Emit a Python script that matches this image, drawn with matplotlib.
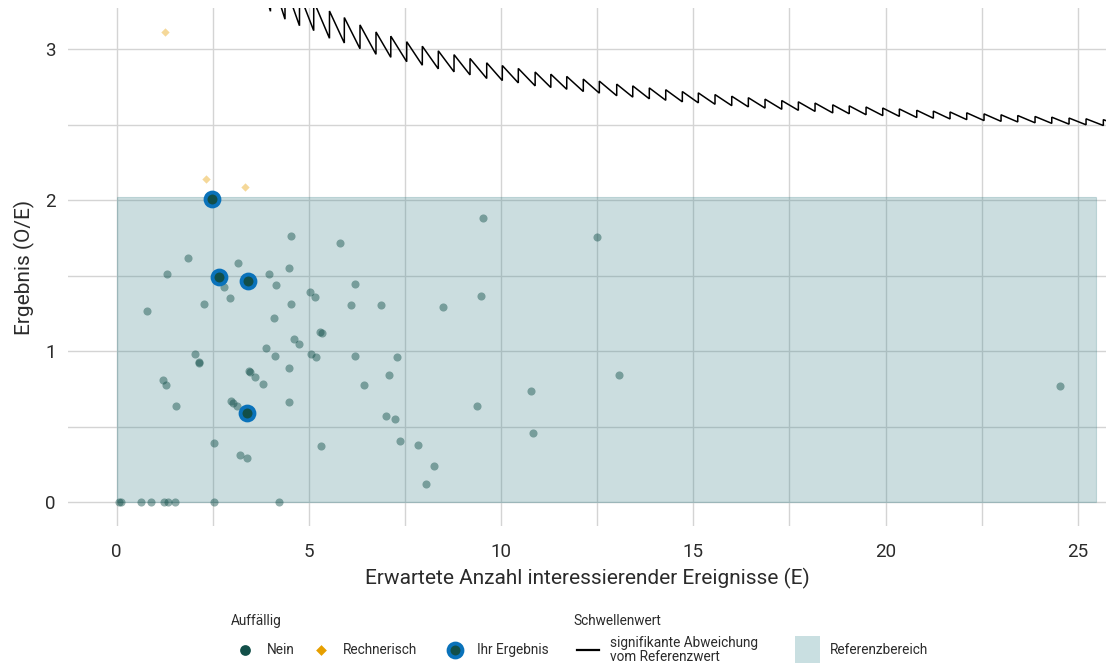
import matplotlib
matplotlib.use("Agg")
import matplotlib.pyplot as plt
from matplotlib.patches import Rectangle
from matplotlib.lines import Line2D

plt.rcParams['font.family'] = ['Roboto', 'DejaVu Sans']

# ---------------- data ----------------
nein_E = [4.53, 5.82, 1.85, 3.15, 1.32, 3.97, 4.49, 2.79, 4.15, 6.21, 5.02, 5.15, 2.95, 2.27,
          4.54, 6.10, 6.87, 0.78, 4.08, 5.29, 5.35, 4.61, 4.74, 3.88, 2.03, 2.13, 2.15, 4.12,
          5.06, 5.19, 6.19, 7.28, 3.43, 3.47, 3.61, 3.81, 4.48, 7.08, 6.43, 1.21, 1.28, 1.55,
          2.98, 3.02, 3.14, 4.49, 7.00, 7.25, 7.38, 2.54, 3.20, 3.40, 5.31, 7.85, 8.25, 8.05,
          8.48, 9.48, 9.54, 12.49, 13.06, 10.78, 10.84, 9.38, 24.53,
          0.05, 0.12, 0.62, 0.88, 1.24, 1.34, 1.52, 2.54, 4.21]
nein_OE = [1.762, 1.715, 1.616, 1.583, 1.510, 1.508, 1.552, 1.426, 1.439, 1.444, 1.389, 1.358,
           1.353, 1.313, 1.313, 1.307, 1.308, 1.267, 1.219, 1.128, 1.117, 1.079, 1.048, 1.022,
           0.982, 0.930, 0.920, 0.965, 0.980, 0.962, 0.965, 0.958, 0.870, 0.862, 0.826, 0.783,
           0.887, 0.843, 0.773, 0.810, 0.777, 0.638, 0.667, 0.657, 0.634, 0.662, 0.568, 0.548,
           0.402, 0.389, 0.309, 0.291, 0.373, 0.377, 0.238, 0.121, 1.293, 1.366, 1.883, 1.757,
           0.839, 0.737, 0.457, 0.636, 0.770,
           0, 0, 0, 0, 0, 0, 0, 0, 0]

rechn_E = [2.32, 3.34, 1.26]
rechn_OE = [2.141, 2.088, 3.113]

ihr_E = [2.48, 2.67, 3.41, 3.38]
ihr_OE = [2.009, 1.490, 1.462, 0.589]

# threshold (significant deviation): segment boundaries and observed count per segment
thresh_bounds_E = [3.80, 4.000, 4.378, 4.755, 5.125, 5.535, 5.921, 6.329, 6.745, 7.130, 7.544,
                   7.950, 8.366, 8.775, 9.191, 9.625, 10.031, 10.447, 10.885, 11.293, 11.707,
                   12.138, 12.555, 13.007, 13.424, 13.855, 14.282, 14.714, 15.130, 15.564,
                   15.999, 16.431, 16.865, 17.300, 17.732, 18.166, 18.626, 19.056, 19.493,
                   19.927, 20.359, 20.812, 21.244, 21.678, 22.112, 22.562, 23.005, 23.439,
                   23.889, 24.324, 24.774, 25.216, 25.666, 25.80]
thresh_counts = [13, 14, 15, 16, 17, 18, 19, 20, 21, 22, 23, 24, 25, 26, 27, 28, 29, 30, 31, 32,
                 33, 34, 35, 36, 37, 38, 39, 40, 41, 42, 43, 44, 45, 46, 47, 48, 49, 50, 51, 52,
                 53, 54, 55, 56, 57, 58, 59, 60, 61, 62, 63, 64, 65]

ref_E = (0.0, 25.48)
ref_OE = (0.0, 2.02)

x_ticks = [0, 5, 10, 15, 20, 25]
y_ticks = [0, 1, 2, 3]

# ---------------- colours ----------------
c_nein = '#124f49'
c_rechn = '#e69f00'
c_blue = '#0a72ba'
c_grid = '#d4d4d4'
c_text = '#2b2b2b'

W, H = 1106, 664
fig = plt.figure(figsize=(W / 100, H / 100), dpi=100)
ax = fig.add_axes([68 / W, 1 - 526 / H, (W - 68) / W, (526 - 8) / H])

ax.set_xlim(-1.267, 25.735)
ax.set_ylim(-0.159, 3.272)

for s in ax.spines.values():
    s.set_visible(False)

ax.set_xticks(x_ticks)
ax.set_yticks(y_ticks)
ax.set_xticks([2.5, 7.5, 12.5, 17.5, 22.5], minor=True)
ax.set_yticks([0.5, 1.5, 2.5], minor=True)
ax.tick_params(which='both', length=0)
ax.tick_params(axis='x', labelsize=13.5, pad=12, colors=c_text)
ax.tick_params(axis='y', labelsize=13.5, pad=9, colors=c_text)
ax.grid(True, which='both', color=c_grid, lw=1.0, zorder=0)
ax.set_axisbelow(True)

# reference area
ax.add_patch(Rectangle((ref_E[0], ref_OE[0]), ref_E[1] - ref_E[0], ref_OE[1] - ref_OE[0],
                       facecolor=(0.216, 0.498, 0.529, 0.26),
                       edgecolor=(0.216, 0.498, 0.529, 0.25), lw=0.8, zorder=1))

# threshold sawtooth
tx, ty = [], []
for i, c in enumerate(thresh_counts):
    a, b = thresh_bounds_E[i], thresh_bounds_E[i + 1]
    tx += [a, b]
    ty += [c / a, c / b]
ax.plot(tx, ty, color='black', lw=1.1, zorder=4, solid_joinstyle='miter')

# points
ax.scatter(nein_E, nein_OE, s=34, color=c_nein, alpha=0.45, linewidths=0, zorder=3)
ax.scatter(rechn_E, rechn_OE, s=18, marker='D', color=c_rechn, alpha=0.4, linewidths=0, zorder=3)
ax.scatter(ihr_E, ihr_OE, s=100, color=c_nein, edgecolors=c_blue, linewidths=2.8, zorder=5)

ax.set_xlabel('Erwartete Anzahl interessierender Ereignisse (E)', fontsize=15, color=c_text,
              labelpad=5)
ax.set_ylabel('Ergebnis (O/E)', fontsize=15, color=c_text, labelpad=7)

# ---------------- legend (pixel coordinates) ----------------
lg = fig.add_axes([0, 0, 1, 1], zorder=10)
lg.set_xlim(0, W)
lg.set_ylim(H, 0)
lg.axis('off')
fs = 9.8
lg.text(231, 621, 'Auffällig', fontsize=fs, color=c_text, va='center', ha='left')
lg.text(573, 621, 'Schwellenwert', fontsize=fs, color=c_text, va='center', ha='left')
ly = 650
lg.scatter([245], [ly], s=60, color=c_nein, linewidths=0)
lg.text(267, ly, 'Nein', fontsize=fs, color=c_text, va='center', ha='left')
lg.scatter([321], [ly], s=30, marker='D', color=c_rechn, linewidths=0)
lg.text(343, ly, 'Rechnerisch', fontsize=fs, color=c_text, va='center', ha='left')
lg.scatter([455], [ly], s=100, color=c_nein, edgecolors=c_blue, linewidths=2.8)
lg.text(477, ly, 'Ihr Ergebnis', fontsize=fs, color=c_text, va='center', ha='left')
lg.add_line(Line2D([577, 599], [ly, ly], color='black', lw=1.6))
lg.text(610, ly, 'signifikante Abweichung\nvom Referenzwert', fontsize=fs, color=c_text,
        va='center', ha='left', linespacing=0.95)
lg.add_patch(Rectangle((795, 636), 25, 27, facecolor='#c9dfe1', edgecolor='none'))
lg.text(830, ly, 'Referenzbereich', fontsize=fs, color=c_text, va='center', ha='left')

fig.savefig('out.png', dpi=100)
